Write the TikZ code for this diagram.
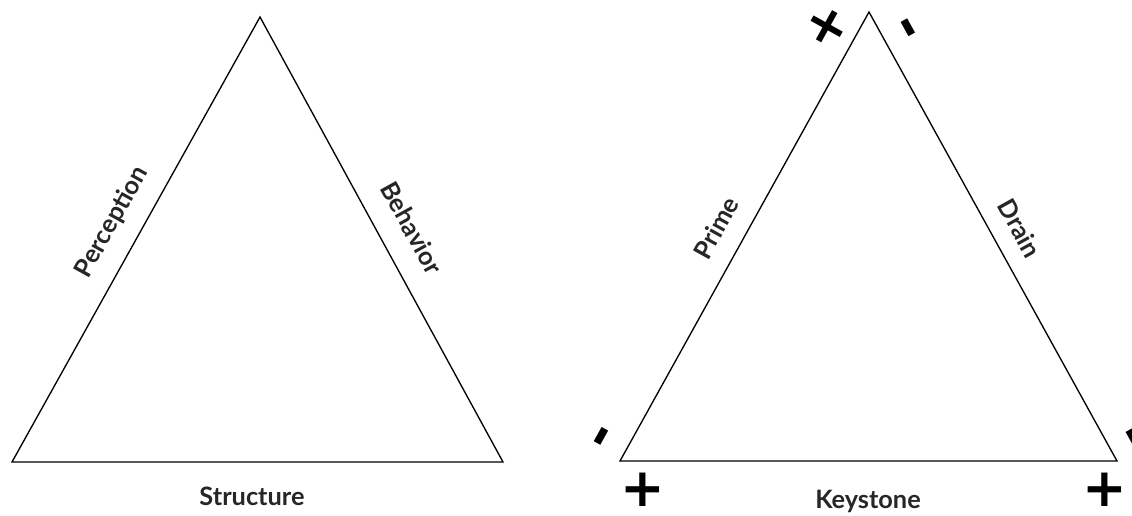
\documentclass[tikz,border=0pt]{standalone}
\usepackage{fontspec}
\setmainfont{Lato}
\newfontfamily\signfont{DejaVu Sans}
\usetikzlibrary{positioning}

\begin{document}
\begin{tikzpicture}[x=0.75pt,y=-0.75pt,
  side/.style={draw=black,line width=1pt,line join=miter},
  lab/.style={font=\fontsize{19}{21}\selectfont\bfseries,text=black!85,inner sep=0pt},
  sign/.style={font=\signfont\bfseries\fontsize{40}{40}\selectfont,inner sep=0pt}]
  \useasboundingbox (0,0) rectangle (1132,515);
  % left triangle
  \coordinate (la) at (260,17);
  \coordinate (ll) at (12,462);
  \coordinate (lr) at (503,462);
  \draw[side] (la) -- (ll) -- (lr) -- cycle;
  \node[lab,rotate=61] (perc) at (112,222) {Perception};
  \node[lab,rotate=-61] (behav) at (412,228) {Behavior};
  \node[lab] (struct) at (252,496) {Structure};
  % right triangle
  \coordinate (ra) at (869,12);
  \coordinate (rl) at (620,461);
  \coordinate (rr) at (1117,461);
  \draw[side] (ra) -- (rl) -- (rr) -- cycle;
  \node[lab,rotate=61] (prime) at (716,228) {Prime};
  \node[lab,rotate=-61] (drain) at (1020,228) {Drain};
  \node[lab] (key) at (868,501) {Keystone};
  % signs at the corners
  \node[sign,rotate=-29] (ptop) at (827,27) {+};
  \node[sign,rotate=-61] (mtop) at (903,31) {-};
  \node[sign,rotate=61] (mleft) at (606,439) {-};
  \node[sign] (pleft) at (643,490) {+};
  \node[sign] (pright) at (1105,490) {+};
  \node[sign,rotate=-61] (mright) at (1128,441) {-};
\end{tikzpicture}
\end{document}
